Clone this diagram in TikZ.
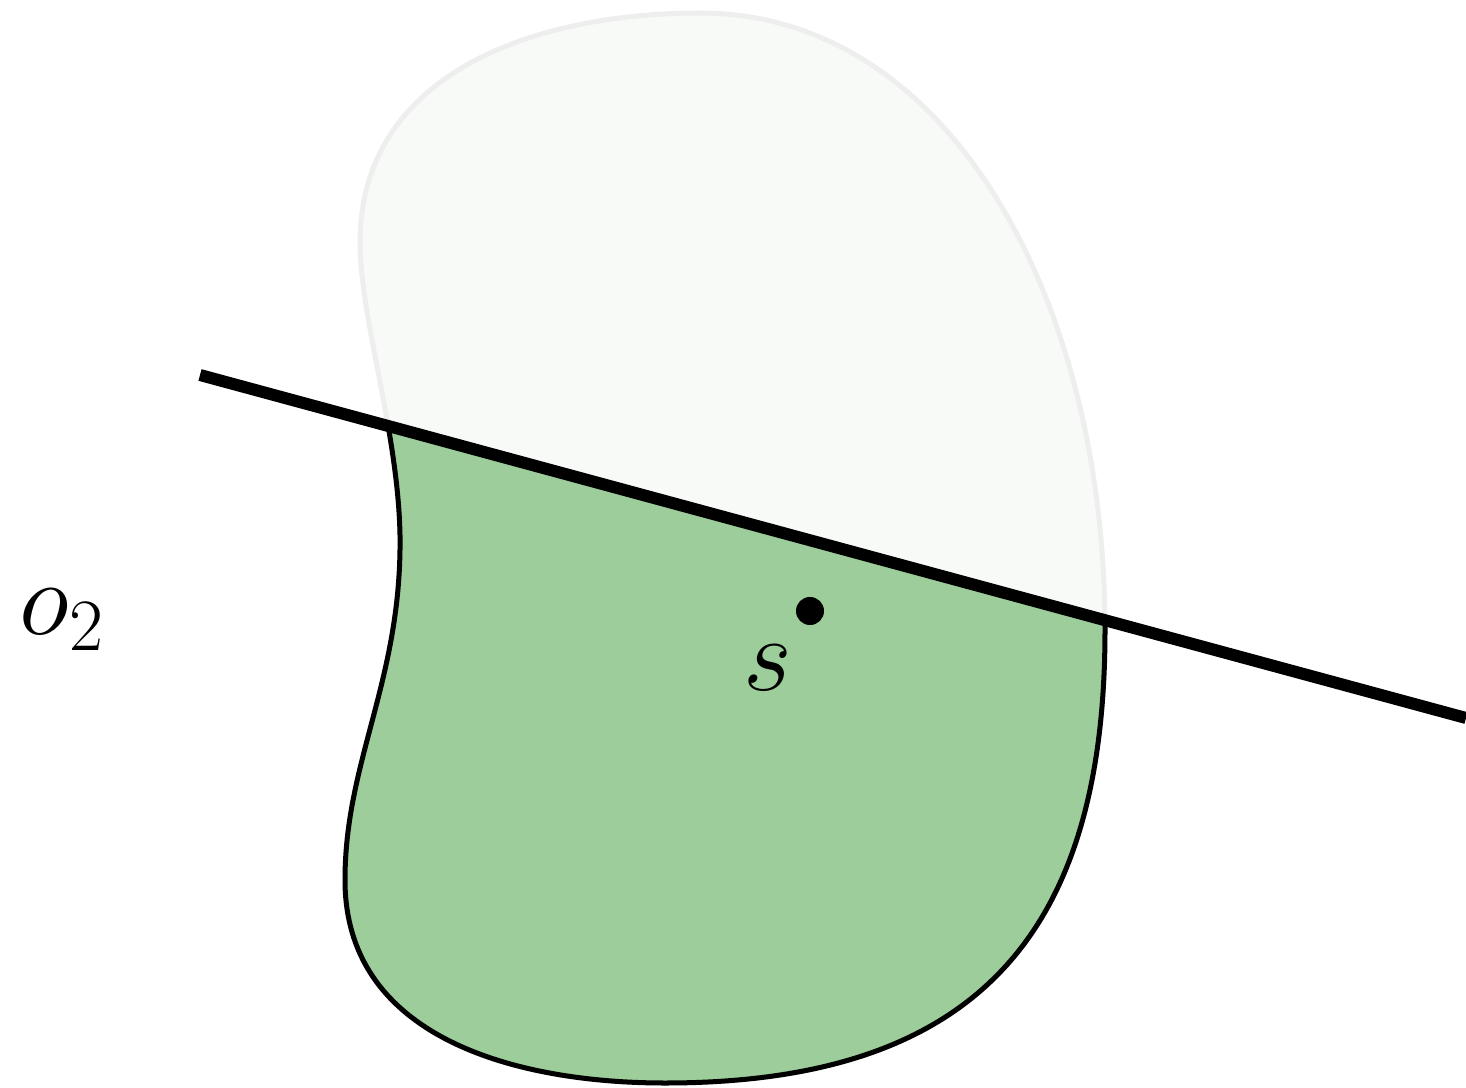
\RequirePackage{fix-cm}
\documentclass[tikz,border=0pt]{standalone}
\definecolor{regiongreen}{HTML}{9CCD9A}
\definecolor{regionpale}{HTML}{F8FAF8}
\definecolor{regionedge}{HTML}{EEEEEE}
\begin{document}
\begin{tikzpicture}[x=0.01cm, y=-0.01cm,
  every node/.style={font=\fontsize{30}{36}\selectfont},
  dot/.style={circle, fill=black, inner sep=0pt, minimum size=0.28cm}]
\useasboundingbox (0,0) rectangle (1466,1088);
\def\blob{(700,13) .. controls (540,13) and (362,70) .. (360,240)
  .. controls (360,320) and (398,430) .. (400,535)
  .. controls (402,680) and (345,760) .. (345,880)
  .. controls (345,1040) and (520,1083) .. (665,1083)
  .. controls (980,1083) and (1105,930) .. (1105,630)
  .. controls (1105,300) and (950,13) .. (700,13) -- cycle}
\draw[regionedge, fill=regionpale, line width=0.05cm] \blob;
\begin{scope}
\clip (200,375) -- (1466,718) -- (1466,1088) -- (0,1088) -- (0,375) -- cycle;
\draw[black, fill=regiongreen, line width=0.05cm] \blob;
\end{scope}
\coordinate (a) at (200,375);
\coordinate (b) at (1466,718);
\draw[line width=0.12cm] (a) -- (b);
\node[dot] (s) at (810,611) {};
\node (slabel) at (768,668) {$s$};
\node (o2) at (62,620) {$o_2$};
\end{tikzpicture}
\end{document}
